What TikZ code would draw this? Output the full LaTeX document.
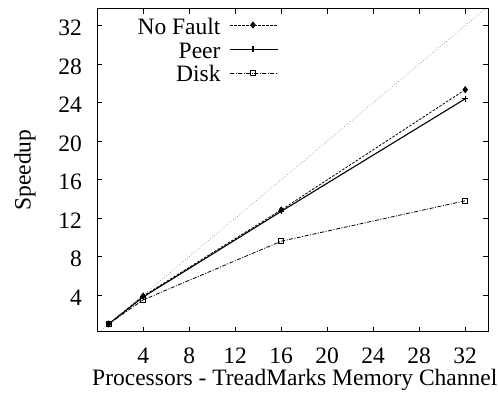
\documentclass[tikz,border=0pt]{standalone}
\usepackage{fontspec}
\setmainfont{Liberation Serif}
\usetikzlibrary{plotmarks}

\begin{document}
\begin{tikzpicture}[x=11.5pt,y=9.62pt,
	lbl/.style={font=\fontsize{23.5}{28}\selectfont,inner sep=0pt},
	nofault/.style={dash pattern=on 2.5pt off 1.5pt,line width=0.8pt,mark=diamond*,mark size=3pt,mark options={solid}},
	peer/.style={line width=1.1pt,mark=+,mark size=3pt},
	disk/.style={dash pattern=on 4pt off 1.5pt on 1pt off 1.5pt,line width=0.8pt,mark=square,mark size=2.6pt,mark options={solid,line width=0.8pt}}]
	\useasboundingbox (-8.45,-6.5) rectangle (34.85,34.67);
	% ideal speedup
	\begin{scope}
		\clip (0,0.2) rectangle (34,33.75);
		\draw[dotted,line width=0.5pt,black!70] (0,0) -- (34,34);
	\end{scope}
	% frame and ticks
	\draw[line width=1.2pt] (0,0.2) rectangle (34,33.75);
	\foreach \v in {4,8,...,32} {
		\draw[line width=0.8pt] (\v,0.2) -- +(0,0.5);
		\draw[line width=0.8pt] (\v,33.75) -- +(0,-0.5);
		\draw[line width=0.8pt] (0,\v) -- +(0.43,0);
		\draw[line width=0.8pt] (34,\v) -- +(-0.43,0);
		\node[lbl,anchor=base] (xt\v) at (\v,-3.07) {\v};
		\node[lbl,anchor=east] (yt\v) at (-1.32,\v-0.25) {\v};
	}
	\node[lbl,anchor=base west] (xlabel) at (-0.45,-5.35) {Processors - TreadMarks Memory Channel};
	\node[lbl,anchor=base,rotate=90] (ylabel) at (-5.78,17) {Speedup};
	% data
	\draw[nofault] plot coordinates {(1,1) (4,3.9) (16,12.85) (32,25.35)};
	\draw[peer] plot coordinates {(1,1) (4,3.8) (16,12.7) (32,24.4)};
	\draw[disk] plot coordinates {(1,1) (4,3.5) (16,9.6) (32,13.8)};
	% key
	\node[lbl,anchor=base east] (knofault) at (10.74,31.13) {No Fault};
	\node[lbl,anchor=base east] (kpeer) at (10.74,28.64) {Peer};
	\node[lbl,anchor=base east] (kdisk) at (10.74,26.15) {Disk};
	\draw[nofault,mark=none] (11.55,32.07) -- (15.72,32.07);
	\draw[peer,mark=none] (11.55,29.57) -- (15.72,29.57);
	\draw[disk,mark=none] (11.55,27.08) -- (15.72,27.08);
	\path[nofault] plot coordinates {(13.55,32.07)};
	\path[peer] plot coordinates {(13.55,29.57)};
	\path[disk] plot coordinates {(13.55,27.08)};
\end{tikzpicture}
\end{document}
